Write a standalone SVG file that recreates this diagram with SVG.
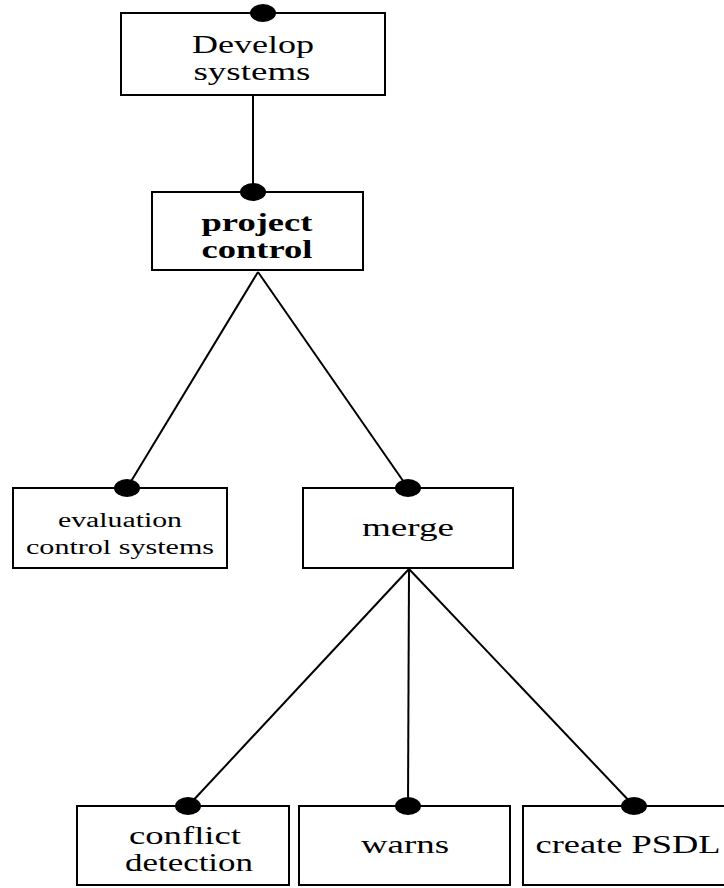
<svg xmlns="http://www.w3.org/2000/svg" width="724" height="888" viewBox="0 0 724 888">
<style>
.box{fill:#fff;stroke:#000;stroke-width:2}
.dot{fill:#000}
.edge{stroke:#000;stroke-width:2;fill:none}
text{font-family:"Liberation Serif","Times New Roman",serif;font-size:25px;fill:#000;text-anchor:middle}
.b{font-weight:bold}
.s{font-size:20px}
</style>
<rect width="724" height="888" fill="#fff"/>
<g id="connectors">
<line class="edge" x1="253" y1="95" x2="253" y2="192"/>
<line class="edge" x1="258" y1="272" x2="127" y2="488"/>
<line class="edge" x1="258" y1="272" x2="408" y2="488"/>
<line class="edge" x1="409" y1="569" x2="188" y2="806"/>
<line class="edge" x1="409" y1="569" x2="408" y2="806"/>
<line class="edge" x1="409" y1="569" x2="634" y2="806"/>
</g>
<g id="develop">
<rect class="box" x="121" y="13" width="264" height="82"/>
<ellipse class="dot" cx="263" cy="13" rx="13" ry="9"/>
<text x="253" y="53" textLength="122" lengthAdjust="spacingAndGlyphs">Develop</text>
<text x="252" y="80" textLength="117" lengthAdjust="spacingAndGlyphs">systems</text>
</g>
<g id="project">
<rect class="box" x="152" y="192" width="211" height="78"/>
<ellipse class="dot" cx="253" cy="192" rx="13" ry="9"/>
<text class="b" x="257" y="231" textLength="111" lengthAdjust="spacingAndGlyphs">project</text>
<text class="b" x="257" y="258" textLength="111" lengthAdjust="spacingAndGlyphs">control</text>
</g>
<g id="evaluation">
<rect class="box" x="13" y="488" width="214" height="80"/>
<ellipse class="dot" cx="127" cy="488" rx="13" ry="9"/>
<text class="s" x="120" y="527" textLength="124" lengthAdjust="spacingAndGlyphs">evaluation</text>
<text class="s" x="120" y="554" textLength="188" lengthAdjust="spacingAndGlyphs">control systems</text>
</g>
<g id="merge">
<rect class="box" x="303" y="488" width="210" height="80"/>
<ellipse class="dot" cx="408" cy="488" rx="13" ry="9"/>
<text x="408" y="536" textLength="92" lengthAdjust="spacingAndGlyphs">merge</text>
</g>
<g id="conflict">
<rect class="box" x="77" y="806" width="212" height="79"/>
<ellipse class="dot" cx="188" cy="806" rx="13" ry="9"/>
<text x="185" y="844" textLength="112" lengthAdjust="spacingAndGlyphs">conflict</text>
<text x="189" y="871" textLength="128" lengthAdjust="spacingAndGlyphs">detection</text>
</g>
<g id="warns">
<rect class="box" x="299" y="806" width="211" height="79"/>
<ellipse class="dot" cx="408" cy="806" rx="13" ry="9"/>
<text x="405" y="853" textLength="88" lengthAdjust="spacingAndGlyphs">warns</text>
</g>
<g id="psdl">
<rect class="box" x="523" y="806" width="212" height="79"/>
<ellipse class="dot" cx="634" cy="806" rx="13" ry="9"/>
<text x="628" y="853" textLength="185" lengthAdjust="spacingAndGlyphs">create PSDL</text>
</g>
</svg>
